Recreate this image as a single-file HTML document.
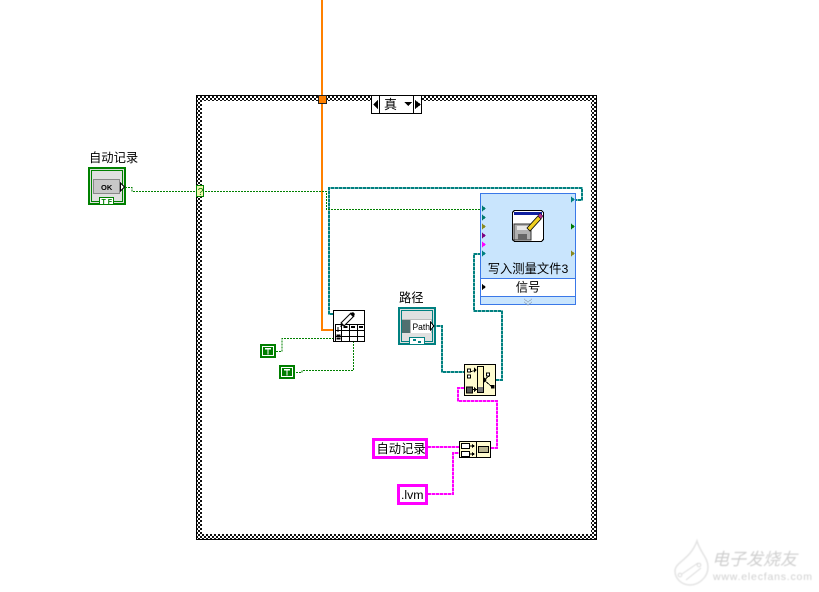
<!DOCTYPE html>
<html><head><meta charset="utf-8"><style>
html,body{margin:0;padding:0;background:#fff}
svg{display:block}
text{font-family:"Liberation Sans","Noto Sans CJK SC",sans-serif;fill:#000}
.c{shape-rendering:crispEdges}
</style></head><body>
<svg width="819" height="592" viewBox="0 0 819 592" xmlns="http://www.w3.org/2000/svg">
<defs>
<pattern id="ck" width="4" height="4" patternUnits="userSpaceOnUse"><rect width="4" height="4" fill="#fff"/><rect width="2" height="2" fill="#111"/><rect x="2" y="2" width="2" height="2" fill="#111"/></pattern>
<filter id="bl"><feGaussianBlur stdDeviation="0.450"/></filter>
</defs>
<g class="c">
<!-- frame -->
<path fill-rule="evenodd" d="M196 95H597V540H196ZM202 101V534H591V101Z" fill="url(#ck)"/>
<rect x="196.500" y="95.500" width="400" height="444" fill="none" stroke="#000"/>
<!-- selector -->
<rect x="371.500" y="95.500" width="50" height="18" fill="#fff" stroke="#000"/>
<path d="M379.500 95V114M413.500 95V114" stroke="#000"/>
<path d="M373 104.500L378 100V109ZM421 104.500L415 100V109ZM404 102H412L408 106Z" fill="#000"/>
</g>
<text x="384" y="109" font-size="13">真</text>
<g class="c">
<!-- orange wire -->
<path d="M322 0V330H333" fill="none" stroke="#ff8000" stroke-width="2.400"/>
<rect x="318.500" y="95.500" width="8" height="8" fill="#ff8000" stroke="#222"/>
<!-- teal wires -->
<g fill="none" stroke="#7fbfbf" stroke-width="2">
<path d="M333 314H329V188H582V200H575"/>
<path d="M433 326H442V372H464"/>
<path d="M496 380H502V311H474V254H481"/>
</g>
<g fill="none" stroke="#008080" stroke-width="2" stroke-dasharray="3 1">
<path d="M333 314H329V188H582V200H575"/>
<path d="M433 326H442V372H464"/>
<path d="M496 380H502V311H474V254H481"/>
</g>
<!-- green wires -->
<g fill="none" stroke="#008000" stroke-width="1" stroke-dasharray="2 1">
<path d="M125 187.500H132V191.500H326.500V209.500H481"/>
<path d="M276 351.500H282V338.500H333"/>
<path d="M296 372.500H302V370.500H353.500V342"/>
</g>
<rect x="196.500" y="185.500" width="7" height="11" fill="#f4f8b0" stroke="#008000"/>
</g>
<text x="197.800" y="195" font-size="10" style="fill:#008000">?</text>
<g class="c">
<!-- magenta wires -->
<g fill="none" stroke="#ff90ff" stroke-width="2">
<path d="M464 388H458V401H497V448H491"/>
<path d="M428 447H459"/>
<path d="M428 494H453V453H459"/>
</g>
<g fill="none" stroke="#ff00ff" stroke-width="2" stroke-dasharray="3 1">
<path d="M464 388H458V401H497V448H491"/>
<path d="M428 447H459"/>
<path d="M428 494H453V453H459"/>
</g>
<!-- bool control -->
<rect x="89" y="168" width="36" height="36" fill="#e0e0e0" stroke="#008000" stroke-width="2"/>
<rect x="91.500" y="170.500" width="31" height="31" fill="none" stroke="#008000"/>
<rect x="93.500" y="179.500" width="26" height="14" fill="#c8c8c8" stroke="#888"/>
<path d="M120.500 183L124.500 187L120.500 191Z" fill="#fff" stroke="#000"/>
<rect x="99.500" y="197.500" width="14" height="7" fill="#fff" stroke="#008000"/>
</g>
<text x="101" y="190" font-size="7.500" font-weight="bold">OK</text>
<text x="101.500" y="204" font-size="7" font-weight="bold" style="fill:#008000">T F</text>
<text x="89" y="162" font-size="12.300">自动记录</text>
<g class="c">
<!-- write node -->
<rect x="480.500" y="193.500" width="95" height="111" fill="#c9e5fd" stroke="#3a78e8"/>
<rect x="480.500" y="278.500" width="95" height="18" fill="#fff" stroke="#3a78e8"/>
<path d="M524 299L528 302L532 299M524 302L528 305L532 302" fill="none" stroke="#9ab" stroke-width="0.800"/>
<path d="M482 205.500l4 3l-4 3zM482 214.500l4 3l-4 3z" fill="#007a70"/>
<path d="M482 223.500l4 3l-4 3z" fill="#8a8a20"/>
<path d="M482 232.500l4 3l-4 3z" fill="#800080"/>
<path d="M482 241.500l4 3l-4 3z" fill="#ff00ff"/>
<path d="M482 250.500l4 3l-4 3z" fill="#008080"/>
<path d="M482 284l4 3l-4 3z" fill="#000"/>
<path d="M571 196.500l4 3l-4 3z" fill="#008080"/>
<path d="M571 223.500l4 3l-4 3z" fill="#007a00"/>
<path d="M571 250.500l4 3l-4 3z" fill="#8a8a20"/>
<!-- write icon -->
<rect x="512.500" y="210.500" width="31" height="31" rx="3" fill="#fff" stroke="#000" stroke-width="1.200"/>
<rect x="514" y="212" width="28" height="3" fill="#1020a0"/>
<rect x="514" y="224" width="17" height="16" fill="#b0b0b0" stroke="#333" stroke-width="0.700"/>
<rect x="517" y="226" width="11" height="4" fill="#e8e8e8"/>
<rect x="518" y="234" width="9" height="6" fill="#666"/>
</g>
<path d="M527 228L538 216L541 219L530 231Z" fill="#f0d020" stroke="#000" stroke-width="0.800"/>
<path d="M538 216l2-3l3 3l-2 3z" fill="#b03090" stroke="#000" stroke-width="0.500"/>
<text x="528" y="273" font-size="12.300" text-anchor="middle">写入测量文件3</text>
<text x="528" y="291.500" font-size="12.300" text-anchor="middle">信号</text>
<g class="c">
<!-- table node -->
<rect x="333.500" y="310.500" width="31" height="31" fill="#fff" stroke="#000" stroke-width="1.200"/>
<path d="M335 324.500H365M335 330.500H365M335 336.500H365M335.500 324.500V342M341.500 324.500V342M349.500 324.500V342M357.500 324.500V342" stroke="#000" fill="none"/>
<path d="M338 327v5M337 335h3v1h-3zM337 338h3v1h-3z" stroke="#000" fill="none"/>
<path d="M343.500 326h4v2h-4zM351 326h4v2h-4zM359 326h4v2h-4z" fill="#000"/>
</g>
<path d="M341 323L351 313L354 316L344 326Z" fill="#fff" stroke="#000" stroke-width="1"/>
<path d="M350 314l3-2l2 2l-2 3z" fill="#000"/>
<path d="M340 327l2-4l2 2z" fill="#000"/>
<g class="c">
<!-- T constants -->
<rect x="260" y="344" width="16" height="14" fill="#007f00"/>
<rect x="262.500" y="346.500" width="11" height="9" fill="none" stroke="#fff"/>
<path d="M265 348h6v1.500h-2.300v5h-1.400v-5H265z" fill="#fff"/>
<rect x="279" y="365" width="16" height="14" fill="#007f00"/>
<rect x="281.500" y="367.500" width="11" height="9" fill="none" stroke="#fff"/>
<path d="M284 369h6v1.500h-2.300v5h-1.400v-5H284z" fill="#fff"/>
<!-- path control -->
<rect x="399" y="308" width="36" height="36" fill="#e0e0e0" stroke="#008080" stroke-width="2"/>
<rect x="401.500" y="310.500" width="31" height="31" fill="none" stroke="#008080"/>
<rect x="402" y="319" width="30" height="14" fill="#bbb"/>
<rect x="402" y="320" width="8" height="13" fill="#507070"/>
<rect x="411" y="320" width="20" height="13" fill="#fff"/>
<path d="M430.500 322L434 326L430.500 330Z" fill="#fff" stroke="#000"/>
<rect x="409.500" y="337.500" width="15" height="7" fill="#fff" stroke="#008080"/>
<path d="M413 339h3v2h-3zM418 341h3v2h-3z" fill="#008080"/>
</g>
<text x="399" y="302" font-size="12.300">路径</text>
<text x="412.500" y="330" font-size="9.500" textLength="17.500" lengthAdjust="spacingAndGlyphs">Path</text>
<g class="c">
<!-- merge node -->
<rect x="464.500" y="364.500" width="31" height="31" fill="#fffbd0" stroke="#000" stroke-width="1.200"/>
<rect x="477.500" y="366.500" width="6" height="26" fill="#fff8c0" stroke="#000"/>
<rect x="466.500" y="387" width="6" height="6" fill="#555" stroke="#000"/>
<rect x="478" y="387" width="5" height="5" fill="#777"/>
<path d="M467.500 369h3v3h-3zM467.500 375h3v3h-3zM486.500 373h3v3h-3z" fill="#fff" stroke="#000" stroke-width="0.800"/>
<rect x="491" y="385" width="3.500" height="3.500" fill="#000"/>
<path d="M470 372L476 370M473 389.500H477M484 380L489 376M484 380L491 386" stroke="#000" stroke-width="0.900" fill="none"/>
<path d="M474 367.500l3 2.500l-3 2.500zM474 387l3 2.500l-3 2.500zM484 377.500l3 2.500l-3 2.500z" fill="#000"/>
<!-- build path node -->
<rect x="459.500" y="441.500" width="31" height="16" fill="#fffbd0" stroke="#000" stroke-width="1.200"/>
<path d="M476.500 441V458" stroke="#000"/>
<rect x="461.500" y="443.500" width="8" height="5" fill="#fff" stroke="#000"/>
<rect x="461.500" y="451.500" width="8" height="5" fill="#fff" stroke="#000"/>
<path d="M470 446h3M470 454h3" stroke="#000"/>
<path d="M472 444l3 2l-3 2zM472 452l3 2l-3 2z" fill="#000"/>
<rect x="478.500" y="446.500" width="10" height="6" fill="#b8b490" stroke="#000"/>
<!-- string constants -->
<rect x="373.500" y="439.500" width="53" height="18" fill="#fff" stroke="#ff00ff" stroke-width="3"/>
<rect x="398.500" y="485.500" width="28" height="18" fill="#fff" stroke="#ff00ff" stroke-width="3"/>
</g>
<text x="376.500" y="453" font-size="12.300">自动记录</text>
<text x="401" y="499" font-size="12.300">.lvm</text>
<!-- watermark -->
<g opacity="0.700" filter="url(#bl)">
<path d="M697 541C700 552 708 558 708 567C708 578 698 585 690 585C681 585 675 578 675 571C675 562 690 560 697 541Z" fill="none" stroke="#d8d8d8" stroke-width="1.500"/>
<path d="M682 574L698 563M686 580L701 568" stroke="#ccc" fill="none"/>
<circle cx="680" cy="575" r="1.800" fill="none" stroke="#ccc"/>
<circle cx="699" cy="565" r="1.800" fill="none" stroke="#ccc"/>
<text x="712" y="565" font-size="17" font-style="italic" style="fill:#bbb">电子发烧友</text>
<text x="713" y="580" font-size="10.500" letter-spacing="0.800" style="fill:#bbb">www.elecfans.com</text>
</g>
</svg>
</body></html>
